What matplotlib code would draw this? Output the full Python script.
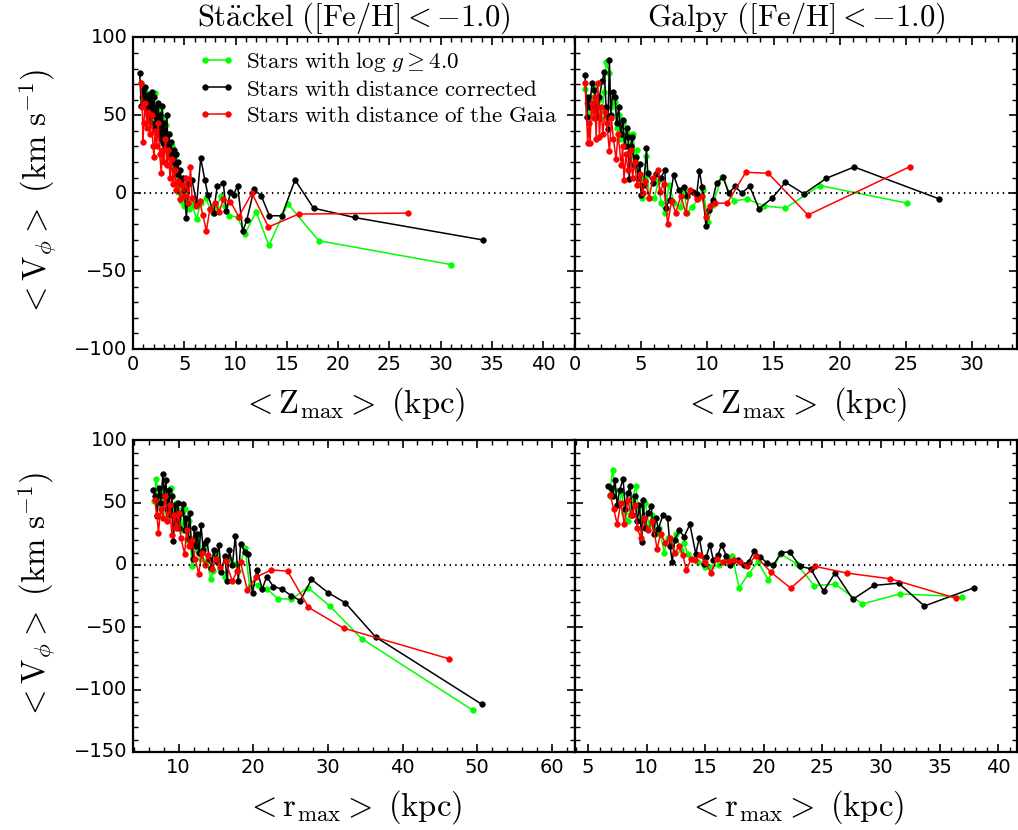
import matplotlib
matplotlib.use('Agg')
import matplotlib.pyplot as plt
from matplotlib.ticker import MultipleLocator

plt.style.use('classic')
plt.rcParams['mathtext.fontset'] = 'cm'
plt.rcParams['font.family'] = ['DejaVu Sans']

# ---- Staeckel, Zmax ----
st_z_green = [0.75, 0.9, 1.05, 1.2, 1.35, 1.5, 1.65, 1.8, 1.95, 2.1, 2.2, 2.35, 2.5, 2.6, 2.75, 2.9, 3.05, 3.2,
              3.35, 3.5, 3.65, 3.8, 3.95, 4.1, 4.25, 4.4, 4.55, 4.7, 4.85, 5.0, 5.2, 5.45, 5.72, 6.2, 6.6, 7.1,
              7.5, 7.8, 8.1, 8.6, 9.0, 9.4, 10.2, 10.9, 12.0, 13.25, 15.1, 18.1, 31.0]
st_v_green = [71, 62, 66, 55, 64, 50, 60, 48, 62, 64, 45, 55, 40, 52, 36, 48, 32, 44,
              28, 38, 24, 30, 16, 24, 8, 1, 10, -5, 4, -8, -2, -10, -7, -16.5, -6, -3.2,
              -10, -12.8, -9, -2.1, -8, -14.5, -15.4, -26.2, -12, -33.5, -6.8, -30.5, -45.8]

st_z_black = [0.65, 0.8, 0.95, 1.1, 1.2, 1.35, 1.45, 1.55, 1.65, 1.75, 1.85, 1.95, 2.05, 2.15, 2.25, 2.35, 2.45,
              2.55, 2.65, 2.75, 2.85, 2.95, 3.05, 3.15, 3.3, 3.4, 3.5, 3.6, 3.7, 3.85, 3.95, 4.05, 4.15, 4.3,
              4.4, 4.5, 4.6, 4.75, 4.9, 5.0, 5.2, 5.4, 5.75, 6.2, 6.6, 7.0, 7.3, 7.85, 8.2, 8.8, 9.1, 9.5,
              9.8, 10.2, 10.7, 11.1, 11.8, 12.5, 13.3, 14.5, 15.8, 17.6, 21.6, 34.1]
st_v_black = [77, 56, 66, 58, 68, 52, 63, 48, 60, 45, 65, 50, 62, 42, 55, 40, 58,
              38, 50, 35, 56, 32, 45, 30, 50, 28, 38, 25, 33, 20, 28, 15, 25, 12,
              20, 8, 15, 5, 10, 2, -16, 6, 8.5, -6.4, 22.4, 8.5, -1, -12.8, 4.4, 6.4, -11.7, 1,
              -1, 4.9, -24.5, -17, 2.5, -1.7, -14.5, -14.5, 8.5, -9.6, -15.6, -30]

st_z_red = [0.75, 0.9, 0.97, 1.05, 1.2, 1.35, 1.5, 1.65, 1.8, 1.95, 2.04, 2.15, 2.3, 2.45, 2.6, 2.75, 2.85,
            3.0, 3.15, 3.3, 3.45, 3.6, 3.75, 3.9, 4.05, 4.2, 4.4, 4.6, 4.8, 5.0, 5.2, 5.4, 5.6, 5.75,
            6.1, 6.5, 6.8, 7.15, 7.5, 8.0, 8.4, 8.8, 9.5, 10.3, 11.6, 13.2, 16.15, 26.8]
st_v_red = [71, 55, 33, 45, 58, 42, 52, 38, 50, 30, 23, 40, 30, 45, 25, 13, 28,
            20, 35, 18, 28, 10, 22, 6, 15, 2, 8, -4, 5, -2, 10, -6, 17, -3,
            -8, -5, -14, -24, -10, -6, -12, -4, -5.4, -15, 0, -21.7, -13.4, -12.8]

# ---- Galpy, Zmax ----
ga_z_green = [0.78, 0.9, 1.05, 1.2, 1.35, 1.5, 1.65, 1.8, 2.0, 2.2, 2.35, 2.6, 2.75, 3.0, 3.15, 3.3, 3.5,
              3.65, 3.8, 4.0, 4.2, 4.4, 4.55, 4.7, 4.85, 5.05, 5.2, 5.4, 5.6, 6.0, 6.3, 6.5, 6.8, 7.1, 7.5,
              7.96, 8.2, 8.5, 8.85, 9.3, 9.7, 10.05, 10.4, 11.1, 12.0, 13.0, 14.3, 15.9, 18.5, 25.1]
ga_v_green = [67, 58, 50, 62, 55, 68, 52, 60, 48, 65, 84, 77, 55, 58.6, 42, 50, 35,
              45, 30, 38, 25, 38, 20, 28, 10, -3.2, 10, 24, -3.2, -3.2, 8, -6, -12.5, 5, -6.4,
              -8.9, 2, -12.5, -8.9, -4, 2, -18.8, -7.5, 10.6, -4.9, -3.8, -8.2, -9.6, 4.9, -6.4]

ga_z_black = [0.76, 0.88, 1.0, 1.1, 1.29, 1.47, 1.6, 1.72, 1.85, 2.05, 2.22, 2.35, 2.48, 2.6, 2.7, 2.85, 3.03,
              3.15, 3.3, 3.45, 3.6, 3.75, 3.9, 4.0, 4.1, 4.2, 4.3, 4.45, 4.6, 4.75, 4.9, 5.0, 5.2, 5.4, 5.5,
              5.9, 6.1, 6.5, 6.8, 6.85, 7.15, 7.45, 7.85, 8.2, 8.5, 8.9, 9.2, 9.4, 9.6, 9.9, 10.1, 10.4,
              10.7, 11.2, 11.6, 12.1, 12.6, 13.2, 13.9, 14.9, 15.9, 17.3, 19.0, 21.1, 27.5]
ga_v_black = [76, 49, 62, 55, 71, 66, 55, 49, 62, 72, 78, 55, 41, 85.6, 50, 65, 62,
              45, 55, 38, 47, 30, 42, 36, 9, 30, 36, 18, 23, 10, 19, -1, 5, 28.7, 12.7,
              6.4, 12, 10, 15, -9.5, -4.3, 11.5, 2, 4, -2, 1, -0.4, 14.5, 3.9, -21.3, -10.7, -4.3,
              6.4, 10.6, 0, 4.3, 0, 4.5, -10, -3.2, 7, -0.4, 9.6, 16.8, -3.6]

ga_z_red = [0.76, 0.96, 1.05, 1.14, 1.25, 1.4, 1.5, 1.6, 1.72, 1.85, 1.95, 2.1, 2.25, 2.4, 2.6, 2.75, 2.9,
            3.1, 3.25, 3.5, 3.6, 3.7, 3.85, 4.0, 4.2, 4.35, 4.5, 4.7, 4.9, 5.1, 5.3, 5.6, 5.9, 6.3, 6.4,
            6.7, 7.0, 7.3, 7.6, 8.0, 8.36, 8.7, 9.2, 9.6, 9.9, 10.2, 10.6, 11.5, 12.9, 14.6, 17.6, 25.3]
ga_v_red = [71, 32, 45, 32.5, 58, 48, 62, 35, 71, 36, 55, 38, 52, 45, 27, 48, 35,
            22, 38, 18, 30, 8.5, 25, 15, 28, 10, 20, 5, 12, 0, 8, -3, 10, 15, 1,
            6, -19.8, -5, -12.5, -2, -12.5, 2.3, -4, -2, -15, -8, -6.4, -6.4, 13.4, 12.8, -14, 17]

# ---- Staeckel, rmax ----
st_r_green = [6.7, 7.0, 7.3, 7.6, 7.9, 8.2, 8.5, 8.8, 9.0, 9.3, 9.6, 9.9, 10.2, 10.5, 10.8, 11.1, 11.4, 11.8,
              12.1, 12.4, 12.7, 13.0, 13.4, 13.8, 14.3, 14.6, 15.0, 15.5, 16.2, 16.8, 17.5, 18.0, 18.9,
              19.5, 20.6, 21.8, 23.3, 25.1, 27.3, 30.3, 34.5, 49.4]
st_rv_green = [51.5, 69, 58, 48, 62, 52, 42, 58, 62, 40, 50, 32, 44, 28, 45, 20, 35, -1,
               22, 12, 25, 5, 15, 3, -11, -5, 8, -3, -10, 5, 0.8, -5, 14,
               -16.5, -15.7, -19.2, -27, -27.5, -18.1, -33.2, -59, -116.5]

st_r_black = [6.55, 6.9, 7.1, 7.4, 7.6, 7.9, 8.1, 8.3, 8.5, 8.7, 8.9, 9.1, 9.3, 9.5, 9.7, 9.9, 10.1, 10.35,
              10.6, 10.8, 11.0, 11.25, 11.5, 11.7, 11.9, 12.1, 12.3, 12.5, 12.75, 13.0, 13.3, 13.55, 13.8,
              14.1, 14.4, 14.7, 15.0, 15.4, 15.7, 16.2, 16.5, 16.8, 17.2, 17.6, 18.0, 18.3, 18.9, 19.3,
              19.9, 20.5, 21.2, 21.8, 22.7, 23.8, 25.1, 26.3, 27.8, 30.0, 32.3, 36.4, 50.6]
st_rv_black = [60, 55, 39, 62, 50, 73, 55, 68, 45, 60, 40, 55, 19, 48, 35, 50, 30, 42,
               49, 28, 38, 22, 42, 18, 5, 30, 15, 25, 10, 32, 12, 18, 20,
               5, -2.4, 12, 3, 15.9, -5.7, 7, -13, 11.8, 0, 23.1, -13, 16.7, 10.5, 8.9,
               -22.7, -3.8, -19.2, -9.5, -17.3, -19.2, -24.6, -28.6, -11.6, -22.1, -30.2, -57.8, -111.7]

st_r_red = [6.8, 7.1, 7.3, 7.6, 7.9, 8.2, 8.5, 8.8, 9.1, 9.4, 9.7, 10.0, 10.3, 10.8, 11.1, 11.4, 11.8, 12.2,
            12.7, 13.1, 13.5, 14.0, 14.5, 15.0, 15.6, 16.3, 17.2, 17.8, 18.3, 19.2, 20.4, 22.4, 24.6,
            27.4, 32.1, 46.2]
st_rv_red = [52, 40, 26, 45, 38, 55, 35, 48, 24, 40, 30, 42, 22, 9, 28, 15, 20, 5,
             -7, 10, 0, 8, -3, 5, -2, 3, -13, -5, 2, -20, -9.7, -4, -4.9,
             -34, -50.7, -75.2]

# ---- Galpy, rmax ----
ga_r_green = [6.85, 7.1, 7.35, 7.6, 7.9, 8.1, 8.4, 8.7, 9.1, 9.3, 9.6, 9.9, 10.2, 10.5, 10.8, 11.1, 11.5,
              11.8, 12.1, 12.5, 12.9, 13.2, 13.5, 13.9, 14.4, 15.0, 15.5, 16.2, 16.7, 17.3, 17.9, 18.7,
              19.5, 20.4, 21.4, 22.8, 24.3, 26.1, 28.4, 31.6, 36.9]
ga_rv_green = [55, 76.5, 60, 48, 58, 42, 35, 52, 63, 45, 38, 50, 32, 40, 25, 30, 10,
               22, 15, 25, 12, 18, 9, 5, 2.4, -1.5, -2, 0, 3, 7.5, -18.1, -7.3,
               2.4, -11.9, 9, 1, -16.5, -15.4, -31.3, -23.2, -25.4]

ga_r_black = [6.7, 6.95, 7.1, 7.3, 7.5, 7.7, 8.0, 8.2, 8.4, 8.6, 8.8, 9.0, 9.2, 9.4, 9.6, 9.7, 9.9, 10.1,
              10.4, 10.6, 10.8, 11.0, 11.4, 11.8, 12.0, 12.2, 12.4, 12.8, 13.2, 13.7, 14.2, 14.5, 14.9,
              15.1, 15.4, 15.7, 16.1, 16.4, 16.8, 17.1, 17.4, 17.8, 18.3, 18.7, 19.2, 19.7, 20.3, 20.8,
              21.5, 22.2, 23.1, 24.0, 25.1, 26.1, 27.6, 29.4, 31.5, 33.7, 37.9]
ga_rv_black = [63, 62, 55, 68.5, 48, 60, 69, 45, 58, 63, 40, 55, 35, 48, 18.6, 52, 30, 42,
               47, 25, 38, 29, 40, 38, 15, 2.4, 20, 28, 22.6, 32.6, 9, 21.8, 1,
               6.5, 16.4, 4, 8, 16.4, 7.5, 0, 3.5, 4, 0, 2.4, 11.3, 6.4, 1.5, -0.3,
               10, 10.5, -1.1, -3, -21, -6.2, -27.5, -16.4, -14.6, -32.9, -18.4]

ga_r_red = [6.9, 7.2, 7.5, 7.8, 8.1, 8.4, 8.7, 9.0, 9.2, 9.5, 9.8, 10.1, 10.5, 10.9, 11.2, 11.6, 12.0, 12.4,
            12.8, 13.1, 13.4, 13.8, 14.1, 14.6, 15.0, 15.5, 16.0, 16.5, 17.0, 17.5, 18.0, 18.6, 19.3,
            20.6, 22.3, 24.4, 27.1, 30.8, 36.4]
ga_rv_red = [56, 45, 32.6, 50, 33, 52, 40, 48, 30, 22, 38, 28, 35, 12.9, 25, 18, 22, 10,
             15, 8, -4.4, 5, 4, 8, 2, -6.2, 5, 2, 3, 4, 2, -1, 7.5,
             -5.7, -18.6, -1.2, -6.5, -11.1, -26.7]

labels = [r'$\mathrm{Stars\ with\ log}\ g \geq 4.0$',
          r'$\mathrm{Stars\ with\ distance\ corrected}$',
          r'$\mathrm{Stars\ with\ distance\ of\ the\ Gaia}$']
colors = ['#00ff00', 'black', 'red']

panels = [
    [(st_z_green, st_v_green), (st_z_black, st_v_black), (st_z_red, st_v_red)],
    [(ga_z_green, ga_v_green), (ga_z_black, ga_v_black), (ga_z_red, ga_v_red)],
    [(st_r_green, st_rv_green), (st_r_black, st_rv_black), (st_r_red, st_rv_red)],
    [(ga_r_green, ga_rv_green), (ga_r_black, ga_rv_black), (ga_r_red, ga_rv_red)],
]
xlims = [(0, 43.1), (0, 33.4), (3.9, 63.1), (3.9, 41.6)]
xmajor = [5, 5, 10, 5]
xminor = [1, 1, 2, 1]
titles = [r'$\mathrm{St\ddot{a}ckel}\ (\mathrm{[Fe/H]}<-1.0)$',
          r'$\mathrm{Galpy}\ (\mathrm{[Fe/H]}<-1.0)$']
xlabel_z = r'$<\mathrm{Z_{max}}>\ \mathrm{(kpc)}$'
xlabel_r = r'$<\mathrm{r_{max}}>\ \mathrm{(kpc)}$'
ylabel = r'$<\mathrm{V}_{\phi}>\ (\mathrm{km\ s}^{-1})$'

fig, axes = plt.subplots(2, 2, sharey='row', figsize=(10.18, 8.3), dpi=100)
fig.patch.set_facecolor('white')
plt.subplots_adjust(left=0.1307, right=0.999, top=0.955, bottom=0.094, wspace=0, hspace=0.293)

for i, ax in enumerate(axes.flat):
    for (x, y), c, lab in zip(panels[i], colors, labels):
        ax.plot(x, y, '-o', color=c, mec=c, ms=4, lw=1.1, label=lab)
    ax.axhline(0, color='black', ls=':', lw=1.5)
    ax.set_xlim(xlims[i])
    ax.xaxis.set_major_locator(MultipleLocator(xmajor[i]))
    ax.xaxis.set_minor_locator(MultipleLocator(xminor[i]))
    ax.yaxis.set_major_locator(MultipleLocator(50))
    ax.yaxis.set_minor_locator(MultipleLocator(10))
    ax.tick_params(which='major', length=6, width=1.2, labelsize=14)
    ax.tick_params(which='minor', length=3.5, width=1.0)
    for sp in ax.spines.values():
        sp.set_linewidth(1.6)
    ax.set_xlabel(xlabel_z if i < 2 else xlabel_r, fontsize=23.5, labelpad=8)
    if i < 2:
        ax.set_ylim(-100, 100)
        ax.set_title(titles[i], fontsize=22, pad=8)
    else:
        ax.set_ylim(-150, 100)
    if i % 2 == 0:
        ax.set_ylabel(ylabel, fontsize=23.5, labelpad=12)

axes[0, 0].legend(loc='upper left', bbox_to_anchor=(0.1, 1.025), frameon=False,
                  fontsize=16.6, numpoints=2, handlelength=1.6, handletextpad=0.5,
                  labelspacing=0.14)

fig.savefig('out.png', dpi=100, facecolor='white')
